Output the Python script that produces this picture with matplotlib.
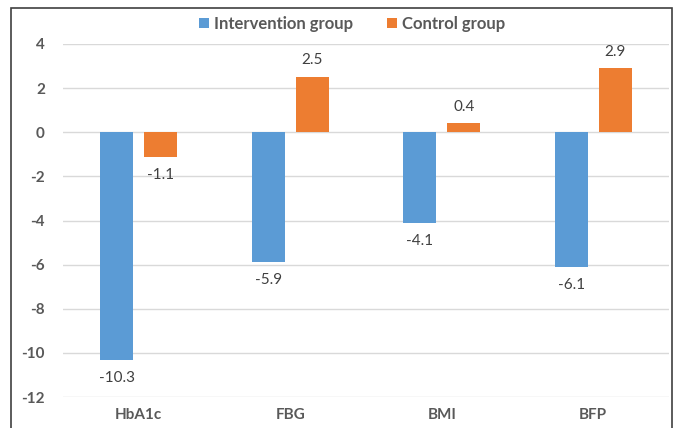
import matplotlib.pyplot as plt
import matplotlib.patches as patches
import numpy as np

# Data
categories = ['HbA1c', 'FBG', 'BMI', 'BFP']
intervention = [-10.3, -5.9, -4.1, -6.1]
control = [-1.1, 2.5, 0.4, 2.9]
series_names = ['Intervention group', 'Control group']
yticks = [4, 2, 0, -2, -4, -6, -8, -10, -12]

blue = '#5B9BD5'
orange = '#ED7D31'
text_gray = '#595959'

plt.rcParams['font.family'] = ['Lato', 'DejaVu Sans']

fig = plt.figure(figsize=(6.82, 4.28), dpi=100)
ax = fig.add_axes([0.0924, 0.0724, 0.8886, 0.8248])

x = np.arange(len(categories))
width = 0.22
offset = 0.145

b1 = ax.bar(x - offset, intervention, width, color=blue, label=series_names[0], zorder=3)
b2 = ax.bar(x + offset, control, width, color=orange, label=series_names[1], zorder=3)

# Data labels: below negative bars, above positive ones
def label_bars(bars, values):
    for bar, v in zip(bars, values):
        cx = bar.get_x() + bar.get_width() / 2
        dy = -13 if v < 0 else 12
        ax.annotate(f'{v}', (cx, v), xytext=(0, dy), textcoords='offset points',
                    ha='center', va='center', fontsize=11, color='#404040')

label_bars(b1, intervention)
label_bars(b2, control)

ax.set_xlim(-0.5, len(categories) - 0.5)
ax.set_ylim(-12, 4)
ax.set_yticks(yticks)
ax.set_yticklabels([str(t) for t in yticks], fontsize=11, fontweight='bold', color=text_gray)
ax.set_xticks(x)
ax.set_xticklabels(categories, fontsize=11, fontweight='bold', color=text_gray)
ax.tick_params(axis='both', length=0)
ax.tick_params(axis='y', pad=13)
ax.tick_params(axis='x', pad=8)
ax.grid(axis='y', color='#D9D9D9', linewidth=1, zorder=0)
for s in ax.spines.values():
    s.set_visible(False)

leg = fig.legend(handles=[b1, b2], loc='center', bbox_to_anchor=(0.516, 0.944), ncol=2,
                 frameon=False, fontsize=12, handlelength=0.6, handleheight=0.6,
                 handletextpad=0.3, columnspacing=2.0)
for t in leg.get_texts():
    t.set_fontweight('bold')
    t.set_color(text_gray)

# outer frame
fig.patches.append(patches.Rectangle((11 / 682, -0.02), 661 / 682, 1 - 8 / 428 + 0.02,
                                     transform=fig.transFigure, fill=False,
                                     edgecolor='#404040', linewidth=1.2))

fig.savefig('out.png', dpi=100)
